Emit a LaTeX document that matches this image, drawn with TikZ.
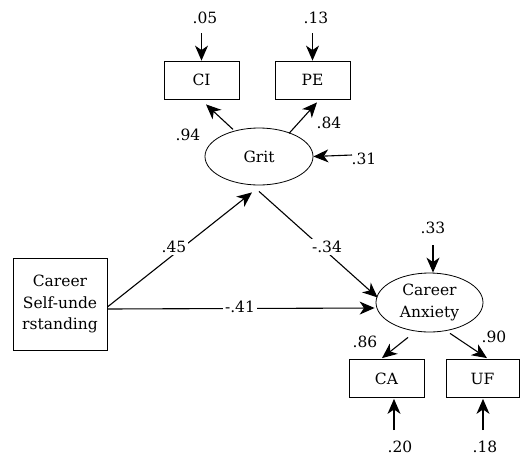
\documentclass[tikz,border=0pt]{standalone}
\usepackage{fontspec}
\setmainfont{DejaVu Serif}
\usetikzlibrary{arrows.meta,calc,shapes.geometric}
\begin{document}
\begin{tikzpicture}[x=1pt,y=-1pt,
  font=\fontsize{15.5}{21.5}\selectfont,
  obs/.style={draw,rectangle,line width=0.8pt,inner sep=0pt,minimum width=75pt,minimum height=38pt},
  lat/.style={draw,ellipse,line width=0.8pt,inner sep=0pt},
  arr/.style={line width=1.1pt,-{Stealth[length=15pt,width=13pt,inset=4.5pt]}},
  lbl/.style={inner sep=1pt},
  onl/.style={fill=white,inner sep=2pt}]
\useasboundingbox (0,0) rectangle (520,456);
% nodes
\node[obs] (CI) at (201.5,80) {CI};
\node[obs] (PE) at (312.5,80) {PE};
\node[lat,minimum width=108pt,minimum height=57pt] (Grit) at (259,156.5) {Grit};
\node[obs,minimum width=94pt,minimum height=92pt,align=center] (CSU) at (60,304) {Career\\Self-unde\\rstanding};
\node[lat,minimum width=107pt,minimum height=59pt,align=center] (Anx) at (429.5,302.5) {Career\\Anxiety};
\node[obs] (CA) at (386.5,378.5) {CA};
\node[obs,minimum width=73pt] (UF) at (482.5,378.5) {UF};
% error terms
\coordinate (eCI) at (201.5,33);
\coordinate (ePE) at (312.5,33);
\coordinate (eGrit) at (352,155);
\coordinate (eAnx) at (433,245);
\coordinate (eCA) at (394,430);
\coordinate (eUF) at (483,430);
\node[lbl] (lCI) at (205,18) {.05};
\node[lbl] (lPE) at (316,18) {.13};
\node[lbl] (lGrit) at (364,159) {.31};
\node[lbl] (lAnx) at (433,228) {.33};
\node[lbl] (lCA) at (400,447) {.20};
\node[lbl] (lUF) at (485,447) {.18};
\draw[arr] (eCI) -- (CI.north);
\draw[arr] (ePE) -- (PE.north);
\draw[arr] (eGrit) -- (Grit.east);
\draw[arr] (eAnx) -- ($(Anx.north)+(3.5,0)$);
\draw[arr] (eCA) -- ($(CA.south)+(7.5,1)$);
\draw[arr] (eUF) -- ($(UF.south)+(0.5,1)$);
% loadings
\draw[arr] ($(Grit.south)+(-26,-56)$) -- ($(CI.south)+(4.5,5)$);
\draw[arr] ($(Grit.south)+(30,-52)$) -- ($(PE.south)+(4.5,3)$);
\draw[arr] ($(Anx.south)+(-21.5,5)$) -- ($(CA.north)+(-4.5,-1)$);
\draw[arr] ($(Anx.south)+(20.5,1)$) -- ($(UF.north)+(4.5,-1)$);
\node[lbl] (l94) at (188,135) {.94};
\node[lbl] (l84) at (329,123) {.84};
\node[lbl] (l86) at (365,342) {.86};
\node[lbl] (l90) at (494,337) {.90};
% structural paths
\draw[arr] ($(CSU.east)+(0,3)$) -- ($(Grit.south)+(-7,7)$);
\draw[arr] ($(Grit.south)+(0,6)$) -- ($(Anx.west)+(2,-5)$);
\draw[arr] ($(CSU.east)+(0,5)$) -- ($(Anx.west)+(-1,5.5)$);
\node[onl] (l45) at (174,247) {.45};
\node[onl] (l34) at (327,247) {-.34};
\node[onl] (l41) at (240,307) {-.41};
\end{tikzpicture}
\end{document}
